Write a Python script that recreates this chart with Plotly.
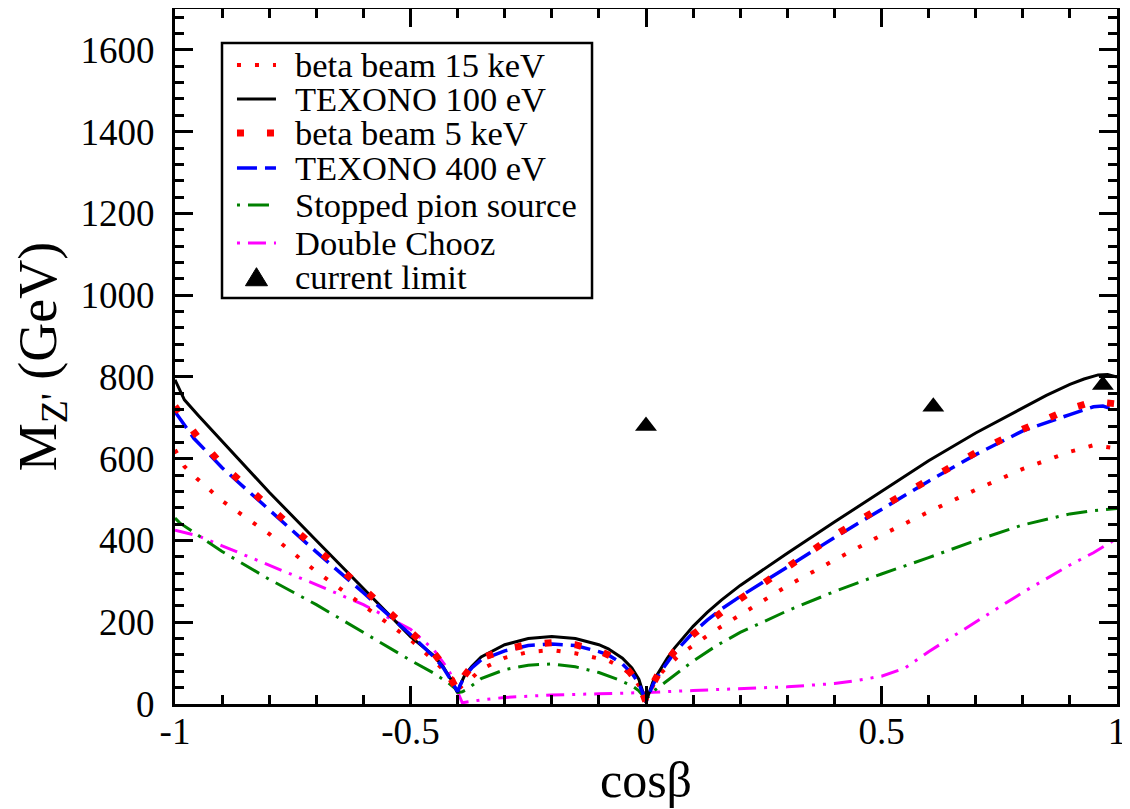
import plotly.graph_objects as go

# ---------------- data ----------------
# TEXONO 100 eV (black solid)
x_tex100 = [-1, -0.98, -0.95, -0.9, -0.8, -0.7, -0.6, -0.5, -0.45, -0.43, -0.415, -0.405, -0.4,
            -0.395, -0.385, -0.37, -0.35, -0.3, -0.25, -0.2, -0.15, -0.1, -0.08, -0.05, -0.03, -0.015, 0,
            0.015, 0.03, 0.045, 0.06, 0.08, 0.1, 0.13, 0.16, 0.2, 0.25, 0.3, 0.4, 0.5, 0.6, 0.7, 0.8,
            0.85, 0.9, 0.93, 0.96, 0.98, 1.0]
y_tex100 = [793, 744, 705, 642, 518, 400, 283, 165, 118, 90, 62, 40, 28,
            45, 70, 92, 115, 145, 160, 165, 160, 145, 135, 112, 88, 60, 5,
            55, 85, 112, 136, 163, 190, 224, 254, 290, 330, 369, 445, 521, 595, 663, 725,
            755, 782, 795, 805, 806, 800]

# TEXONO 400 eV (blue dashed)
x_tex400 = [-1, -0.96, -0.9, -0.8, -0.7, -0.6, -0.5, -0.45, -0.43, -0.415, -0.405, -0.4,
            -0.395, -0.385, -0.37, -0.35, -0.3, -0.25, -0.2, -0.15, -0.1, -0.08, -0.05, -0.03, -0.015, 0,
            0.015, 0.03, 0.06, 0.1, 0.13, 0.16, 0.2, 0.3, 0.4, 0.5, 0.6, 0.7, 0.8, 0.9, 0.95, 0.97, 1.0]
y_tex400 = [715, 650, 578, 474, 372, 272, 170, 115, 88, 60, 40, 30,
            45, 68, 88, 108, 130, 143, 147, 143, 128, 120, 98, 75, 50, 5,
            48, 77, 125, 175, 205, 232, 263, 336, 407, 476, 545, 610, 668, 708, 727, 729, 718]

# beta beam 5 keV (red squares)
x_bb5 = [-1, -0.95, -0.9, -0.8, -0.7, -0.6, -0.5, -0.45, -0.43, -0.415, -0.405, -0.4,
         -0.395, -0.385, -0.37, -0.35, -0.3, -0.25, -0.2, -0.15, -0.1, -0.08, -0.05, -0.03, -0.015, 0,
         0.015, 0.03, 0.06, 0.1, 0.13, 0.16, 0.2, 0.3, 0.4, 0.5, 0.6, 0.7, 0.8, 0.9, 0.95, 1.0]
y_bb5 = [728, 650, 585, 480, 380, 282, 180, 124, 95, 62, 42, 32,
         48, 70, 92, 112, 133, 146, 150, 145, 130, 120, 100, 75, 50, 5,
         50, 82, 128, 170, 198, 224, 257, 337, 412, 482, 550, 615, 672, 722, 740, 734]

# beta beam 15 keV (red dotted)
x_bb15 = [-1, -0.98, -0.953, -0.9, -0.8, -0.7, -0.6, -0.5, -0.45, -0.44, -0.41, -0.4,
          -0.395, -0.385, -0.376, -0.35, -0.3, -0.25, -0.2, -0.15, -0.1, -0.08, -0.05, -0.03, -0.015, 0,
          0.015, 0.034, 0.069, 0.1, 0.14, 0.2, 0.3, 0.4, 0.5, 0.6, 0.7, 0.8, 0.9, 0.95, 1.0]
y_bb15 = [622, 581, 551, 497, 416, 324, 241, 157, 106, 95, 61, 32,
          40, 50, 57, 85, 113, 127, 132, 124, 112, 106, 88, 70, 45, 5,
          45, 78, 118, 142, 175, 218, 289, 352, 413, 470, 524, 575, 617, 633, 625]

# Stopped pion source (green dash-dot)
x_pion = [-1, -0.99, -0.9, -0.8, -0.7, -0.6, -0.5, -0.45, -0.42, -0.405, -0.4,
          -0.39, -0.38, -0.35, -0.3, -0.25, -0.2, -0.15, -0.1, -0.06, -0.03, -0.015, 0,
          0.02, 0.05, 0.1, 0.15, 0.2, 0.3, 0.4, 0.5, 0.6, 0.7, 0.8, 0.9, 0.95, 1.0]
y_pion = [455, 443, 373, 305, 243, 174, 107, 75, 52, 38, 28,
          30, 36, 62, 84, 95, 98, 91, 77, 60, 45, 32, 12,
          35, 62, 105, 143, 175, 228, 275, 318, 358, 400, 438, 465, 473, 478]

# Double Chooz (magenta dash-dot-dot)
x_dchooz = [-1, -0.95, -0.9, -0.8, -0.7, -0.6, -0.5, -0.45, -0.42, -0.405, -0.4,
            -0.39, -0.35, -0.3, -0.2, -0.1, 0, 0.1, 0.2, 0.3, 0.4, 0.45, 0.5, 0.55, 0.6,
            0.7, 0.8, 0.9, 0.95, 1.0]
y_dchooz = [425, 411, 387, 340, 292, 243, 183, 132, 85, 50, 30,
            3, 10, 16, 22, 25, 28, 33, 37, 42, 50, 58, 68, 88, 128,
            200, 273, 340, 370, 405]

# current limit (black triangles)
x_limit = [0.0, 0.61, 0.97]
y_limit = [680, 727, 780]

x_ticks = [-1, -0.5, 0, 0.5, 1]
x_ticktext = ["-1", "-0.5", "0", "0.5", "1"]

legend_labels = ["beta beam 15 keV", "TEXONO 100 eV", "beta beam 5 keV", "TEXONO 400 eV",
                 "Stopped pion source", "Double Chooz", "current limit"]

FONT = "Liberation Serif, Times New Roman, serif"

# ---------------- styles ----------------
st_bb15 = dict(color="#ff0000", width=4, dash="4px,14px")
st_tex100 = dict(color="#000000", width=3)
st_bb5 = dict(color="#ff0000", width=7, dash="7px,23px")
st_tex400 = dict(color="#0000ff", width=3.5, dash="20px,8px")
st_pion = dict(color="#008000", width=3, dash="21px,8px,3px,8px")
st_dchooz = dict(color="#ff00ff", width=3, dash="18px,8px,3px,8px,3px,8px")

fig = go.Figure()
fig.add_trace(go.Scatter(x=x_dchooz, y=y_dchooz, mode="lines", line=st_dchooz,
                         name=legend_labels[5], showlegend=False))
fig.add_trace(go.Scatter(x=x_pion, y=y_pion, mode="lines", line=st_pion,
                         name=legend_labels[4], showlegend=False))
fig.add_trace(go.Scatter(x=x_bb15, y=y_bb15, mode="lines", line=st_bb15,
                         name=legend_labels[0], showlegend=False))
fig.add_trace(go.Scatter(x=x_tex100, y=y_tex100, mode="lines", line=st_tex100,
                         name=legend_labels[1], showlegend=False))
fig.add_trace(go.Scatter(x=x_tex400, y=y_tex400, mode="lines", line=st_tex400,
                         name=legend_labels[3], showlegend=False))
fig.add_trace(go.Scatter(x=x_bb5, y=y_bb5, mode="lines", line=st_bb5,
                         name=legend_labels[2], showlegend=False))
fig.add_trace(go.Scatter(x=x_limit, y=y_limit, mode="markers",
                         marker=dict(symbol="triangle-up", size=19, color="black"),
                         name=legend_labels[6], showlegend=False))

# ---------------- hand-made legend box (paper coords) ----------------
L_left, L_right, L_top, L_bot = 0.0499, 0.4427, 0.9511, 0.5842
s_x0, s_x1, t_x = 0.0658, 0.1072, 0.1255
rows_y = [0.9194, 0.8705, 0.8216, 0.7712, 0.7180, 0.6633, 0.6144]
legend_styles = [st_bb15, st_tex100, st_bb5, st_tex400,
                 dict(st_pion, dash="3px,8px,21px,8px"),
                 dict(st_dchooz, dash="3px,8px,18px,8px,3px,8px"), None]

shapes = [dict(type="rect", xref="paper", yref="paper", x0=L_left, x1=L_right,
               y0=L_bot, y1=L_top, line=dict(color="black", width=2.5),
               fillcolor="white", layer="above")]
annotations = []
for lab, yy, stl in zip(legend_labels, rows_y, legend_styles):
    if stl is not None:
        shapes.append(dict(type="line", xref="paper", yref="paper", x0=s_x0, x1=s_x1,
                           y0=yy, y1=yy, line=stl, layer="above"))
    else:
        cx = (s_x0 + s_x1) / 2
        shapes.append(dict(type="path", xref="paper", yref="paper", layer="above",
                           path=f"M {cx-0.0117} {yy-0.0126} L {cx+0.0117} {yy-0.0126} L {cx} {yy+0.0134} Z",
                           fillcolor="black", line=dict(color="black", width=1)))
    annotations.append(dict(xref="paper", yref="paper", x=t_x, y=yy, text=lab,
                            showarrow=False, xanchor="left", yanchor="middle",
                            font=dict(family=FONT, size=34.5, color="black")))

# the page body adds an 8px offset, so the figure is sized to the remaining window
fig.update_layout(
    width=1122, height=801,
    margin=dict(l=167, r=13, t=1, b=105),
    paper_bgcolor="white", plot_bgcolor="white",
    font=dict(family=FONT, color="black"),
    shapes=shapes, annotations=annotations,
    showlegend=False,
)

axis_common = dict(showgrid=False, zeroline=False, showline=True, linecolor="black",
                   linewidth=3, mirror="allticks", ticks="inside", ticklen=18,
                   tickwidth=2.5, tickcolor="black", automargin=False,
                   tickfont=dict(family=FONT, size=37, color="black"))

fig.update_xaxes(range=[-1, 1], tickmode="array", tickvals=x_ticks, ticktext=x_ticktext,
                 minor=dict(ticks="inside", ticklen=9, tickwidth=2.5, tickcolor="black",
                            dtick=0.1, tick0=-1, showgrid=False),
                 ticklabelstandoff=-7,
                 title=dict(text="cosβ", font=dict(family=FONT, size=50, color="black"), standoff=0),
                 **axis_common)
fig.update_yaxes(range=[0, 1700], dtick=200, tick0=0,
                 minor=dict(ticks="inside", ticklen=9, tickwidth=2.5, tickcolor="black",
                            dtick=40, tick0=0, showgrid=False),
                 ticklabelstandoff=10,
                 title=dict(text="M<sub>Z'</sub> (GeV)", font=dict(family=FONT, size=54, color="black"),
                            standoff=34),
                 **axis_common)

fig.write_html("out.html")
